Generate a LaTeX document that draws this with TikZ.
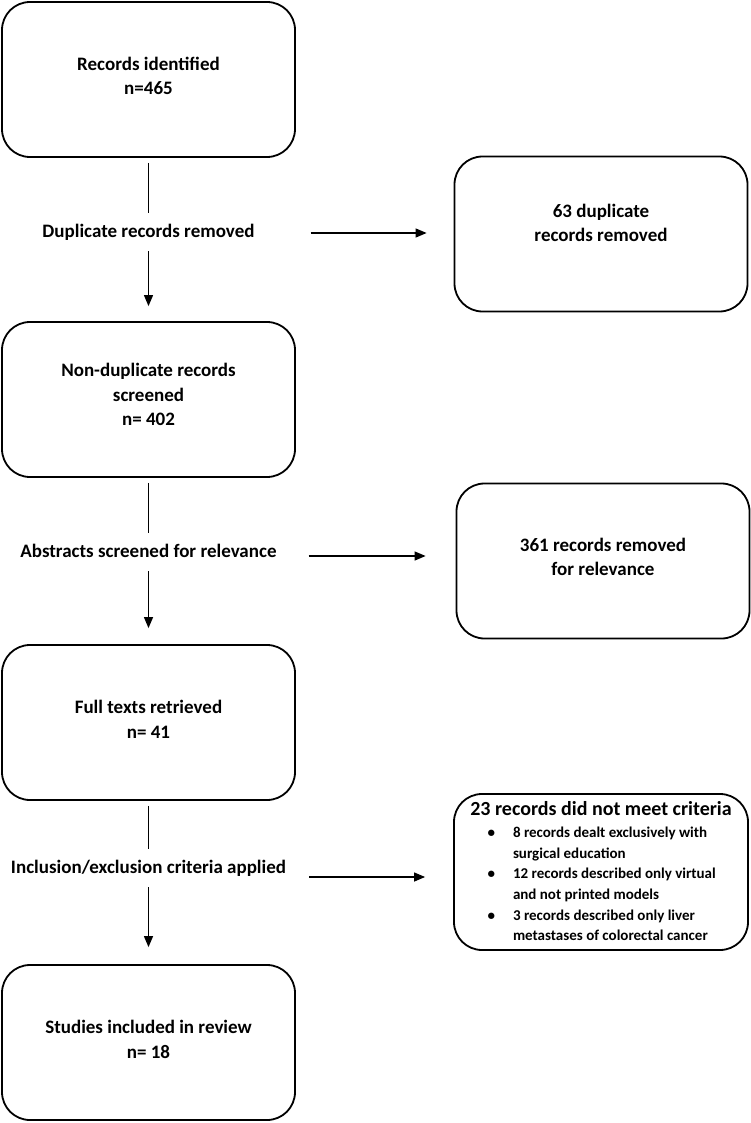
\documentclass[tikz,border=0pt]{standalone}
\usepackage{fontspec}
\setmainfont{Carlito}
\usepackage{tikz}
\usetikzlibrary{arrows.meta,positioning,calc}

\begin{document}
\begin{tikzpicture}[x=1pt,y=-1pt,
		box/.style={draw=black,line width=1.8pt,rounded corners=28pt,minimum width=293pt,minimum height=155pt,align=center,font=\fontsize{19}{24.5}\selectfont\bfseries},
		lab/.style={inner sep=10pt,text height=14pt,text depth=4pt,font=\fontsize{19}{24.5}\selectfont\bfseries},
		arr/.style={line width=1.2pt,-{Triangle[length=11pt,width=9pt]}}]
		\useasboundingbox (0,0) rectangle (751,1123);
		%Main column
		\node[box,text depth=7pt] (rec) at (148.5,79.5) {Records identified\\n=465};
		\node[box,text depth=10pt] (nondup) at (148.5,399.5) {Non-duplicate records\\screened\\n= 402};
		\node[box,text depth=6pt] (full) at (148.5,722.5) {Full texts retrieved\\n= 41};
		\node[box,text depth=6pt] (incl) at (148.5,1042.5) {Studies included in review\\n= 18};
		%Side boxes
		\node[box,text depth=22pt] (dup) at (601,234) {63 duplicate\\records removed};
		\node[box,text depth=8pt] (rel) at (603,561) {361 records removed\\for relevance};
		\node[box,inner sep=0pt,minimum width=294pt,minimum height=156pt] (crit) at (601,872) {\parbox{294pt}{\centering{\fontsize{20}{23}\selectfont 23 records did not meet criteria\par}
			\fontsize{15}{20.6}\selectfont\raggedright
			\begin{list}{\textbullet}{\setlength{\leftmargin}{59pt}\setlength{\labelwidth}{10pt}\setlength{\labelsep}{18pt}\setlength{\itemsep}{0pt}\setlength{\parsep}{0pt}\setlength{\topsep}{2pt}\setlength{\partopsep}{0pt}}
				\item 8 records dealt exclusively with\\surgical education
				\item 12 records described only virtual\\and not printed models
				\item 3 records described only liver\\metastases of colorectal cancer
			\end{list}}};
		%Step labels
		\node[lab] (lab1) at (148.5,232) {Duplicate records removed};
		\node[lab] (lab2) at (148.5,552) {Abstracts screened for relevance};
		\node[lab] (lab3) at (148.5,868) {Inclusion/exclusion criteria applied};
		%Down arrows
		\draw[line width=1.2pt,shorten <=5pt] (rec.south) -- (lab1.north);
		\draw[arr,shorten >=15pt] (lab1.south) -- (nondup.north);
		\draw[line width=1.2pt,shorten <=5pt] (nondup.south) -- (lab2.north);
		\draw[arr,shorten >=16pt] (lab2.south) -- (full.north);
		\draw[line width=1.2pt,shorten <=5pt] (full.south) -- (lab3.north);
		\draw[arr,shorten >=17pt] (lab3.south) -- (incl.north);
		%Side arrows
		\draw[arr] ($(dup.west |- lab1.east)+(-143,1)$) -- ($(dup.west |- lab1.east)+(-27,1)$);
		\draw[arr] ($(rel.west |- lab2.east)+(-147,4)$) -- ($(rel.west |- lab2.east)+(-30,4)$);
		\draw[arr] ($(crit.west |- lab3.east)+(-144,9)$) -- ($(crit.west |- lab3.east)+(-28,9)$);
\end{tikzpicture}
\end{document}
